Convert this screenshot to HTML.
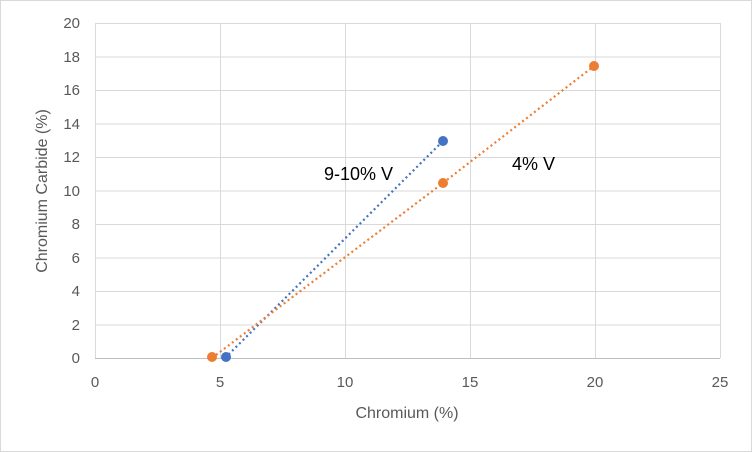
<!DOCTYPE html>
<html><head><meta charset="utf-8"><style>
body{margin:0;background:#fff}
svg{display:block}
text{font-family:"Liberation Sans",sans-serif}
</style></head><body>
<svg width="752" height="452" viewBox="0 0 752 452">
<rect x="0.5" y="0.5" width="751" height="451" fill="#fff" stroke="#d9d9d9"/>
<g stroke="#d9d9d9" stroke-width="1">
<line x1="95" y1="23.5" x2="720" y2="23.5"/>
<line x1="95" y1="57" x2="720" y2="57"/>
<line x1="95" y1="90.5" x2="720" y2="90.5"/>
<line x1="95" y1="124" x2="720" y2="124"/>
<line x1="95" y1="157.5" x2="720" y2="157.5"/>
<line x1="95" y1="191" x2="720" y2="191"/>
<line x1="95" y1="224.5" x2="720" y2="224.5"/>
<line x1="95" y1="258" x2="720" y2="258"/>
<line x1="95" y1="291.5" x2="720" y2="291.5"/>
<line x1="95" y1="325" x2="720" y2="325"/>
<line x1="95.5" y1="23" x2="95.5" y2="358"/>
<line x1="220.5" y1="23" x2="220.5" y2="358"/>
<line x1="345.5" y1="23" x2="345.5" y2="358"/>
<line x1="470.5" y1="23" x2="470.5" y2="358"/>
<line x1="595.5" y1="23" x2="595.5" y2="358"/>
<line x1="720.5" y1="23" x2="720.5" y2="358"/>
</g>
<line x1="95" y1="358.5" x2="720" y2="358.5" stroke="#bfbfbf"/>
<g font-size="15" fill="#595959" text-anchor="end">
<text x="80" y="363">0</text><text x="80" y="330">2</text><text x="80" y="296">4</text>
<text x="80" y="263">6</text><text x="80" y="229">8</text><text x="80" y="196">10</text>
<text x="80" y="162">12</text><text x="80" y="129">14</text><text x="80" y="95">16</text>
<text x="80" y="62">18</text><text x="80" y="28">20</text>
</g>
<g font-size="15" fill="#595959" text-anchor="middle">
<text x="95" y="387">0</text><text x="220" y="387">5</text><text x="345" y="387">10</text>
<text x="470" y="387">15</text><text x="595" y="387">20</text><text x="720" y="387">25</text>
<text x="407" y="418" font-size="16">Chromium (%)</text>
<text transform="translate(47,191) rotate(-90)" font-size="16">Chromium Carbide (%)</text>
</g>
<polyline points="225,358 443,141" fill="none" stroke="#4472c4" stroke-width="2.2" stroke-dasharray="2,3"/>
<polyline points="212,358 443,183 594,66" fill="none" stroke="#ed7d31" stroke-width="2.2" stroke-dasharray="2,3"/>
<g fill="#4472c4"><circle cx="226" cy="357" r="5"/><circle cx="443" cy="141" r="5"/></g>
<g fill="#ed7d31"><circle cx="212" cy="357" r="5"/><circle cx="443" cy="183" r="5"/><circle cx="594" cy="66" r="5"/></g>
<text x="324" y="180" font-size="18" fill="#000">9-10% V</text>
<text x="512" y="170" font-size="18" fill="#000">4% V</text>
</svg>
</body></html>
